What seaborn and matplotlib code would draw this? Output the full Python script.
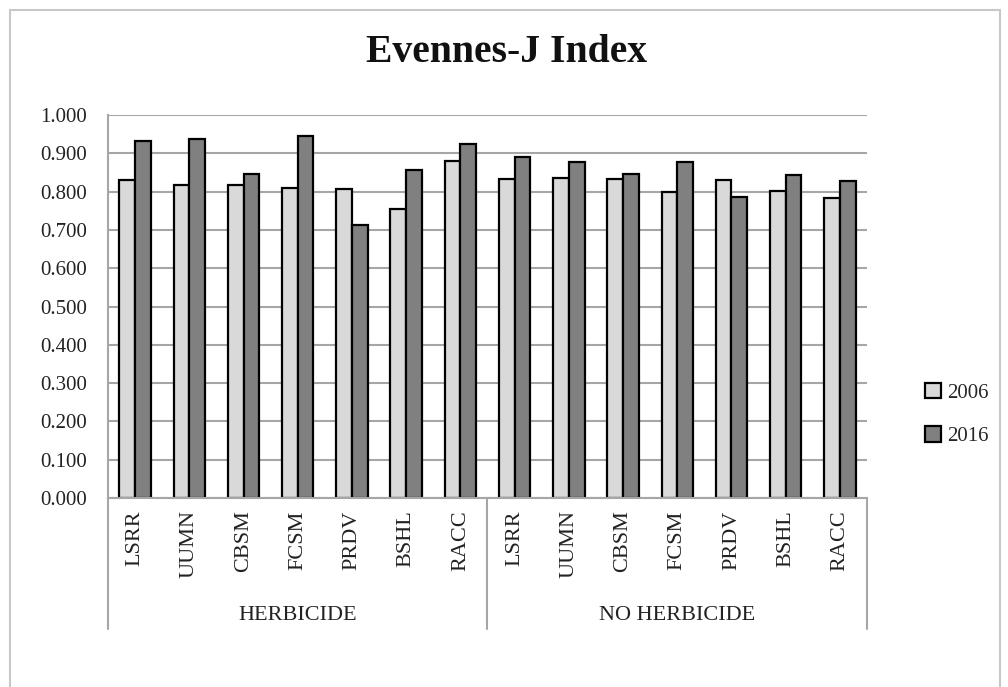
import numpy as np
import pandas as pd
import matplotlib
matplotlib.use('Agg')
import matplotlib.pyplot as plt
import matplotlib.transforms as mtransforms
from matplotlib.patches import Rectangle
import seaborn as sns

# data
sites = ['LSRR', 'UUMN', 'CBSM', 'FCSM', 'PRDV', 'BSHL', 'RACC']
groups = ['HERBICIDE', 'NO HERBICIDE']
herb_2006 = [0.830, 0.816, 0.816, 0.809, 0.806, 0.754, 0.880]
herb_2016 = [0.933, 0.937, 0.846, 0.945, 0.713, 0.856, 0.925]
noherb_2006 = [0.832, 0.836, 0.832, 0.798, 0.830, 0.801, 0.782]
noherb_2016 = [0.890, 0.877, 0.846, 0.877, 0.785, 0.843, 0.828]
years = ['2006', '2016']
yticks = np.arange(0, 1.0001, 0.1)

# long table for seaborn
rows = []
for g, v06, v16 in [(groups[0], herb_2006, herb_2016), (groups[1], noherb_2006, noherb_2016)]:
    for s, a, b in zip(sites, v06, v16):
        rows.append({'key': g + '|' + s, 'site': s, 'group': g, 'year': '2006', 'value': a})
        rows.append({'key': g + '|' + s, 'site': s, 'group': g, 'year': '2016', 'value': b})
df = pd.DataFrame(rows)
order = [g + '|' + s for g in groups for s in sites]

sns.set_theme(style='white')
plt.rcParams['font.family'] = ['Liberation Serif', 'DejaVu Serif']

fig = plt.figure(figsize=(10.08, 6.87), dpi=100)
ax = fig.add_axes([108/1008, 1 - 498/687, (867-108)/1008, (498-115)/687])

sns.barplot(data=df, x='key', y='value', hue='year', order=order, hue_order=years,
            palette={'2006': '#d9d9d9', '2016': '#808080'},
            edgecolor='black', linewidth=1.6, width=0.58, ax=ax)

ax.set_ylim(0, 1.0)
ax.set_xlim(-0.5, len(order) - 0.5)
ax.set_yticks(yticks)
ax.set_yticklabels(['%.3f' % t for t in yticks], fontsize=15, color='#222222')
ax.set_axisbelow(True)
ax.yaxis.grid(True, color='#a6a6a6', lw=1.5)
ax.tick_params(axis='y', length=0, pad=15)

ax.set_xticks(range(len(order)))
ax.set_xticklabels([k.split('|')[1] for k in order], rotation=90, fontsize=16,
                   va='top', color='#222222')
ax.tick_params(axis='x', length=0, pad=9)
ax.set_xlabel('')
ax.set_ylabel('')

for side in ['top', 'right']:
    ax.spines[side].set_visible(False)
for side in ['left', 'bottom']:
    ax.spines[side].set_color('#a6a6a6')
    ax.spines[side].set_linewidth(1.5)

# multi-level category axis
trans = mtransforms.blended_transform_factory(ax.transData, ax.transAxes)
ybot = (498 - 629) / 383
for xb in [-0.5, 6.5, 13.5]:
    ax.plot([xb, xb], [0, ybot], color='#a6a6a6', lw=1.5, transform=trans, clip_on=False)
for i, g in enumerate(groups):
    ax.text(3 + 7 * i, (498 - 616) / 383, g, transform=trans, ha='center', va='center',
            fontsize=16, color='#222222')

ax.legend(loc='center left', bbox_to_anchor=(1.052, 0.218), frameon=False,
          handlelength=0.75, handleheight=0.75, handletextpad=0.3, labelspacing=1.15,
          fontsize=15)

fig.text(507/1008, 1 - 53/687, 'Evennes-J Index', ha='center', va='center',
         fontsize=28.5, fontweight='bold', color='#111111')

# outer chart border
fig.patches.append(Rectangle((10/1008, -0.01), (1000-10)/1008, 1.01 - 10/687,
                             transform=fig.transFigure, fill=False,
                             edgecolor='#c8c8c8', lw=1.5))

fig.savefig('out.png', dpi=100)
